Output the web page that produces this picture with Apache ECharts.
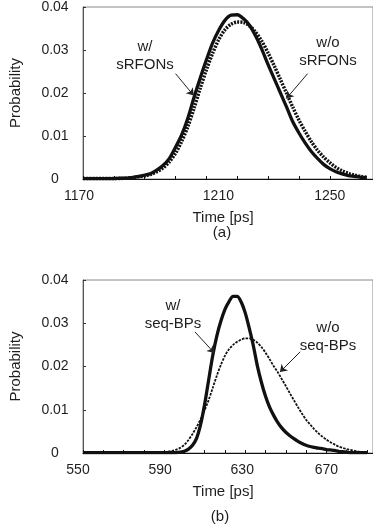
<!DOCTYPE html>
<html><head><meta charset="utf-8">
<script src="https://cdn.jsdelivr.net/npm/echarts@6/dist/echarts.min.js"></script>
<style>html,body{margin:0;padding:0;background:#fff}#c{width:373px;height:528px}</style>
</head><body><div id="c"></div>
<script>
// ---- (a) sRFONs ----
const timesA = [1170,1172,1174,1176,1178,1180,1182,1184,1186,1188,
  1190,1192,1194,1196,1198,1200,1202,1204,1206,1208,
  1210,1212,1214,1216,1218,1220,1222,1224,1226,1228,
  1230,1232,1234,1236,1238,1240,1242,1244,1246,1248,
  1250,1252,1254,1256,1258,1260,1262];
const probWithA = [0.0001,0.0001,0.0001,0.0001,0.0001,0.0001,0.0002,0.0002,0.0004,0.0006,
  0.0009,0.0013,0.0021,0.0032,0.0048,0.0074,0.0103,0.0142,0.0190,0.0235,
  0.0277,0.0316,0.0346,0.0369,0.0381,0.0382,0.0373,0.0357,0.0332,0.0301,
  0.0266,0.0233,0.0200,0.0167,0.0133,0.0107,0.0084,0.0064,0.0048,0.0034,
  0.0024,0.0017,0.0012,0.0008,0.0006,0.0004,0.0003];
const probWithoutA = [0.0001,0.0001,0.0001,0.0001,0.0001,0.0001,0.0001,0.0002,0.0003,0.0005,
  0.0007,0.0011,0.0017,0.0026,0.0040,0.0060,0.0088,0.0122,0.0165,0.0211,
  0.0254,0.0292,0.0324,0.0347,0.0360,0.0365,0.0364,0.0356,0.0341,0.0320,
  0.0293,0.0263,0.0231,0.0199,0.0167,0.0137,0.0111,0.0087,0.0067,0.0051,
  0.0038,0.0027,0.0019,0.0013,0.0009,0.0006,0.0004];

// ---- (b) seq-BPs ----
const timesB = [550,560,570,580,588,
  590,592,594,596,598,600,602,604,606,608,
  610,612,614,616,618,620,622,624,626,628,
  630,632,634,636,638,640,642,644,646,648,
  650,652,654,656,658,660,662,664,666,668,
  670,672,674,676,678,680,682,684,686,688,690];
const probWithB = [0.0001,0.0001,0.0001,0.0001,0.0001,
  0.0001,0.0001,0.0001,0.0001,0.0002,0.0004,0.0009,0.0018,0.0034,0.0066,
  0.0113,0.0170,0.0226,0.0271,0.0305,0.0332,0.0350,0.0362,0.0362,0.0349,
  0.0324,0.0288,0.0248,0.0201,0.0163,0.0131,0.0106,0.0087,0.0071,0.0058,
  0.0048,0.0040,0.0033,0.0027,0.0022,0.0018,0.0015,0.0013,0.0011,0.0010,
  0.0008,0.0007,0.0006,0.0004,0.0003,0.0002,0.0001,0.0001,0.0001,0.0001,0.0001];
const probWithoutB = [0.0001,0.0001,0.0001,0.0001,0.0001,
  0.0002,0.0003,0.0005,0.0008,0.0012,0.0019,0.0030,0.0044,0.0060,0.0078,
  0.0099,0.0123,0.0151,0.0179,0.0204,0.0225,0.0240,0.0250,0.0257,0.0262,
  0.0265,0.0265,0.0262,0.0255,0.0245,0.0232,0.0217,0.0201,0.0187,0.0171,
  0.0155,0.0138,0.0122,0.0106,0.0091,0.0077,0.0066,0.0055,0.0046,0.0038,
  0.0031,0.0025,0.0020,0.0015,0.0012,0.0009,0.0007,0.0005,0.0003,0.0002,0.0001];

const xLabelsA = [1170, 1210, 1250];
const xLabelsB = [550, 590, 630, 670];
const yLabels = ['0', '0.01', '0.02', '0.03', '0.04'];

// small label nudges (px) to match the printed figure's label placement
const labelShiftA = { 1170: -4, 1210: 12, 1250: 0 };
const labelShiftB = { 550: -5, 590: -4, 630: -3, 670: 0 };

function pairs(t, v) { return t.map((x, i) => [x, v[i]]); }
const FONT = '"Liberation Sans", Arial, Helvetica, sans-serif';
const TXT = '#1e1e1e';

function makeX(idx, min, max, labels, shift) {
  const rich = {};
  labels.forEach(l => {
    const s = shift[l] || 0;
    rich['l' + l] = { color: TXT, fontSize: 14, fontFamily: FONT,
      padding: s >= 0 ? [0, 0, 0, 2 * s] : [0, -2 * s, 0, 0] };
  });
  return {
    type: 'value', gridIndex: idx, min: min, max: max, interval: 10,
    axisLine: { show: true, onZero: false, lineStyle: { color: '#111', width: 1.2 } },
    axisTick: { show: true, inside: true, length: 3, lineStyle: { color: '#111' } },
    splitLine: { show: false },
    axisLabel: { margin: 10, color: TXT, fontSize: 14, fontFamily: FONT, showMaxLabel: false, rich: rich,
      formatter: v => { const r = Math.round(v); return labels.includes(r) ? '{l' + r + '|' + r + '}' : ''; } },
    name: 'Time [ps]', nameLocation: 'middle', nameGap: 31,
    nameTextStyle: { fontSize: 15, color: TXT, fontFamily: FONT, padding: [0, 10, 0, 0] }
  };
}
function makeY(idx) {
  return {
    type: 'value', gridIndex: idx, min: 0, max: 0.04, interval: 0.01,
    axisLine: { show: true, lineStyle: { color: '#555', width: 1 } },
    axisTick: { show: true, inside: true, length: 3, lineStyle: { color: '#333' } },
    splitLine: { show: false },
    axisLabel: { align: 'center', margin: 28, color: TXT, fontSize: 14, fontFamily: FONT,
      formatter: v => yLabels[Math.round(v * 100)] },
    name: 'Probability', nameLocation: 'middle', nameGap: 60,
    nameTextStyle: { fontSize: 15, color: TXT, fontFamily: FONT }
  };
}
function arrows(list) {
  return {
    silent: true, symbol: ['none', 'arrow'], symbolSize: 7, animation: false,
    lineStyle: { color: '#222', width: 1, type: 'solid' }, label: { show: false },
    data: list.map(a => [{ coord: a[0] }, { coord: a[1] }])
  };
}
function txt(x, y, s) {
  return { type: 'text', x: x, y: y, silent: true,
    style: { text: s, align: 'center', verticalAlign: 'middle',
      fill: TXT, font: '15px ' + FONT, lineHeight: 18 } };
}

const chart = echarts.init(document.getElementById('c'), null, { renderer: 'canvas' });
chart.setOption({
  animation: false,
  backgroundColor: '#fff',
  grid: [
    { left: 82, top: 4, width: 301, height: 175, show: true, borderColor: '#888', borderWidth: 1, backgroundColor: 'transparent' },
    { left: 82, top: 280, width: 301, height: 173, show: true, borderColor: '#888', borderWidth: 1, backgroundColor: 'transparent' }
  ],
  xAxis: [makeX(0, 1170, 1264, xLabelsA, labelShiftA), makeX(1, 550, 693, xLabelsB, labelShiftB)],
  yAxis: [makeY(0), makeY(1)],
  series: [
    { type: 'line', name: 'w/o sRFONs', xAxisIndex: 0, yAxisIndex: 0, data: pairs(timesA, probWithoutA),
      symbol: 'none', smooth: 0.3, lineStyle: { color: '#111', width: 3.5, type: [2, 1.2], cap: 'butt' }, z: 2 },
    { type: 'line', name: 'w/ sRFONs', xAxisIndex: 0, yAxisIndex: 0, data: pairs(timesA, probWithA),
      symbol: 'none', smooth: 0.3, lineStyle: { color: '#111', width: 3.3 }, z: 3,
      markLine: arrows([[[1200, 0.0245], [1205.9, 0.0194]], [[1242.8, 0.0245], [1235.9, 0.0187]]]) },
    { type: 'line', name: 'w/o seq-BPs', xAxisIndex: 1, yAxisIndex: 1, data: pairs(timesB, probWithoutB),
      symbol: 'none', smooth: 0.3, lineStyle: { color: '#111', width: 1.8, type: [2.5, 1.2] }, z: 2 },
    { type: 'line', name: 'w/ seq-BPs', xAxisIndex: 1, yAxisIndex: 1, data: pairs(timesB, probWithB),
      symbol: 'none', smooth: 0.3, lineStyle: { color: '#111', width: 3.3 }, z: 3,
      markLine: arrows([[[605.2, 0.0280], [614.8, 0.0231]], [[657.1, 0.0234], [647.1, 0.0187]]]) }
  ],
  graphic: [
    txt(145, 56, 'w/\nsRFONs'),
    txt(328, 52, 'w/o\nsRFONs'),
    txt(173, 315, 'w/\nseq-BPs'),
    txt(328, 337, 'w/o\nseq-BPs'),
    txt(222, 233, '(a)'),
    txt(220, 517, '(b)')
  ]
});
</script></body></html>
